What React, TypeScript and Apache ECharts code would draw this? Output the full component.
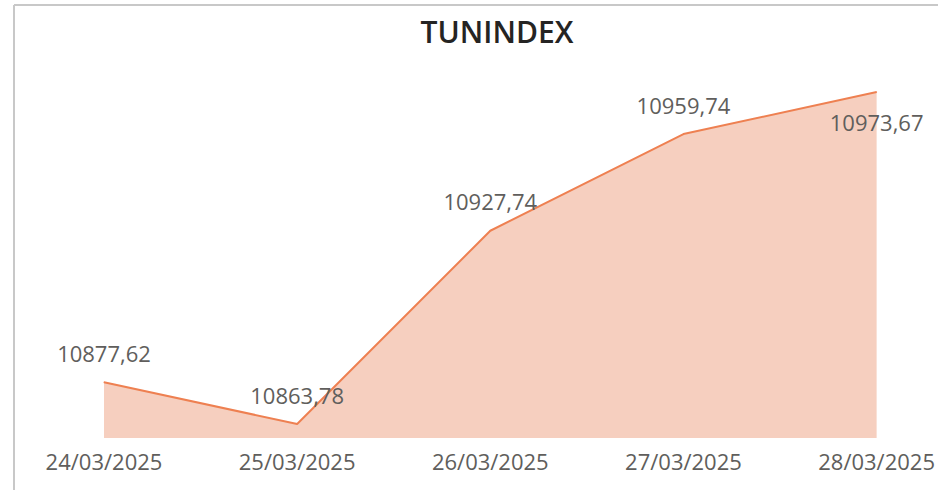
import React, { useEffect, useRef } from "react";
import * as echarts from "echarts";

const categories = ["24/03/2025", "25/03/2025", "26/03/2025", "27/03/2025", "28/03/2025"];
const values = [10877.62, 10863.78, 10927.74, 10959.74, 10973.67];
const labelBelow = [false, false, false, false, true];
const titleText = "TUNINDEX";

const fmt = (v: number) => v.toFixed(2).replace(".", ",");

export default function App() {
  const ref = useRef<HTMLDivElement>(null);
  useEffect(() => {
    document.body.style.margin = "0";
    const chart = echarts.init(ref.current!, null, { renderer: "svg" });
    const font = "'Segoe UI', 'Open Sans', sans-serif";
    chart.setOption({
      animation: false,
      backgroundColor: "#ffffff",
      title: {
        text: titleText,
        left: 492,
        textAlign: "center",
        top: 11,
        textStyle: { fontFamily: font, fontSize: 30, fontWeight: 600, color: "#252423" },
      },
      grid: { left: 104, right: 57, top: 92, bottom: 52 },
      xAxis: {
        type: "category",
        data: categories,
        boundaryGap: false,
        axisLine: { show: false },
        axisTick: { show: false },
        splitLine: { show: false },
        axisLabel: { fontFamily: font, fontSize: 22, color: "#605E5C", margin: 12 },
      },
      yAxis: {
        type: "value",
        min: 10859.15,
        max: 10973.67,
        show: false,
        splitLine: { show: false },
      },
      series: [
        {
          type: "line",
          data: values.map((v, i) => ({
            value: v,
            label: { position: labelBelow[i] ? "bottom" : "top" },
          })),
          symbol: "circle",
          symbolSize: 1,
          showSymbol: true,
          itemStyle: { color: "#EE8051" },
          lineStyle: { color: "#EE8051", width: 2 },
          areaStyle: { color: "#F6CFBF", opacity: 1 },
          label: {
            show: true,
            distance: 18,
            fontFamily: font,
            fontSize: 22,
            color: "#605E5C",
            formatter: (p: any) => fmt(p.value),
          },
        },
      ],
      graphic: [
        { type: "line", shape: { x1: 14, y1: 5, x2: 938, y2: 5 }, style: { stroke: "#C8C8C8", lineWidth: 2 } },
        { type: "line", shape: { x1: 14, y1: 5, x2: 14, y2: 490 }, style: { stroke: "#C8C8C8", lineWidth: 2 } },
      ],
    });
    return () => chart.dispose();
  }, []);
  return <div ref={ref} style={{ width: 938, height: 490 }} />;
}
